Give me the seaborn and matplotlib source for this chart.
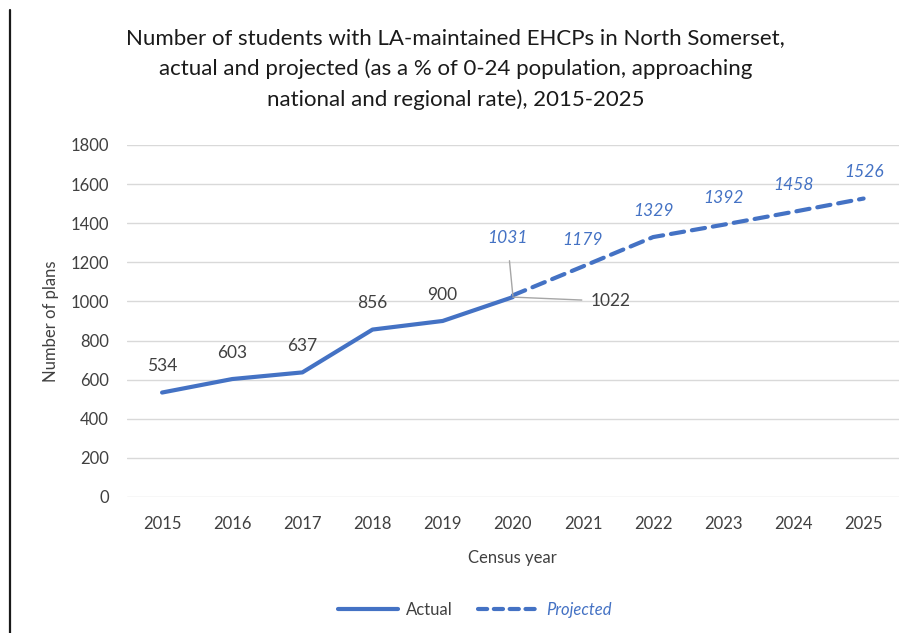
import matplotlib
matplotlib.use("Agg")
import matplotlib.pyplot as plt
from matplotlib.lines import Line2D
import seaborn as sns
import pandas as pd

years_actual = [2015, 2016, 2017, 2018, 2019, 2020]
plans_actual = [534, 603, 637, 856, 900, 1022]
years_proj = [2020, 2021, 2022, 2023, 2024, 2025]
plans_proj = [1031, 1179, 1329, 1392, 1458, 1526]
y_ticks = [0, 200, 400, 600, 800, 1000, 1200, 1400, 1600, 1800]

title = ("Number of students with LA-maintained EHCPs in North Somerset,\n"
         "actual and projected (as a % of 0-24 population, approaching\n"
         "national and regional rate), 2015-2025")

df = pd.DataFrame({
    "year": years_actual + years_proj,
    "plans": plans_actual + plans_proj,
    "series": ["Actual"] * len(years_actual) + ["Projected"] * len(years_proj),
})

BLUE = "#4472C4"
TEXT = "#404040"
GRID = "#D9D9D9"

sns.set_theme(style="white")
plt.rcParams["font.family"] = ["Lato", "DejaVu Sans"]

fig = plt.figure(figsize=(9.17, 6.33), dpi=100)
ax = fig.add_axes([0.1385, 0.2149, 0.8415, 0.5561])

sns.lineplot(data=df, x="year", y="plans", hue="series", style="series",
             palette={"Actual": BLUE, "Projected": BLUE},
             dashes={"Actual": "", "Projected": (3.2, 1.9)},
             linewidth=3, legend=False, ax=ax, sort=False)
for ln in ax.lines:
    ln.set_dash_capstyle("round")
    ln.set_solid_capstyle("round")
    ln.set_solid_joinstyle("round")

ax.set_xlim(2014.5, 2025.5)
ax.set_ylim(0, 1800)
ax.set_yticks(y_ticks)
ax.set_xticks(list(range(2015, 2026)))
ax.tick_params(axis="both", length=0, labelsize=12, labelcolor=TEXT)
ax.tick_params(axis="x", pad=14)
ax.tick_params(axis="y", pad=13)
ax.grid(axis="y", color=GRID, linewidth=1)
ax.set_axisbelow(True)
for s in ax.spines.values():
    s.set_visible(False)

ax.set_xlabel("Census year", fontsize=12, color=TEXT, labelpad=13)
ax.set_ylabel("Number of plans", fontsize=12, color=TEXT, labelpad=8)

# value labels for the actual series (final point has its own leader line)
for yr, v in zip(years_actual[:-1], plans_actual[:-1]):
    ax.annotate(f"{v}", (yr, v), xytext=(0, 19), textcoords="offset points",
                ha="center", va="center", fontsize=12.5, color=TEXT)
# value labels for the projected series
for yr, v in zip(years_proj[1:], plans_proj[1:]):
    ax.annotate(f"{v}", (yr, v), xytext=(0, 19), textcoords="offset points",
                ha="center", va="center", fontsize=12.5, color=BLUE,
                style="italic")

# 2020 labels with leader lines
ax.annotate(f"{plans_actual[-1]}", (years_actual[-1], plans_actual[-1]),
            xytext=(56, -3), textcoords="offset points",
            ha="left", va="center", fontsize=12.5, color=TEXT,
            arrowprops=dict(arrowstyle="-", color="#A6A6A6", lw=1,
                            shrinkA=4, shrinkB=0))
ax.annotate(f"{plans_proj[0]}", (years_proj[0], plans_proj[0]),
            xytext=(-4, 41), textcoords="offset points",
            ha="center", va="center", fontsize=12.5, color=BLUE,
            style="italic",
            arrowprops=dict(arrowstyle="-", color="#A6A6A6", lw=1,
                            shrinkA=8, shrinkB=0))

fig.text(0.497, 0.955, title, ha="center", va="top", fontsize=16,
         color="#1a1a1a", linespacing=1.62)

handles = [Line2D([], [], color=BLUE, lw=3, solid_capstyle="round"),
           Line2D([], [], color=BLUE, lw=3, ls=(0, (2.2, 1.6)),
                  dash_capstyle="round")]
leg = fig.legend(handles, ["Actual", "Projected"], loc="center",
                 bbox_to_anchor=(0.518, 0.036), ncol=2, frameon=False,
                 fontsize=12, handlelength=3.6, columnspacing=1.5,
                 handletextpad=0.5)
leg.get_texts()[0].set_color(TEXT)
leg.get_texts()[1].set_color(BLUE)
leg.get_texts()[1].set_style("italic")

# frame line along the left edge
fig.add_artist(Line2D([0.0109, 0.0109], [0.0, 0.984], color="#1a1a1a",
                      lw=1.6, transform=fig.transFigure))

fig.savefig("out.png", dpi=100, facecolor="white")
